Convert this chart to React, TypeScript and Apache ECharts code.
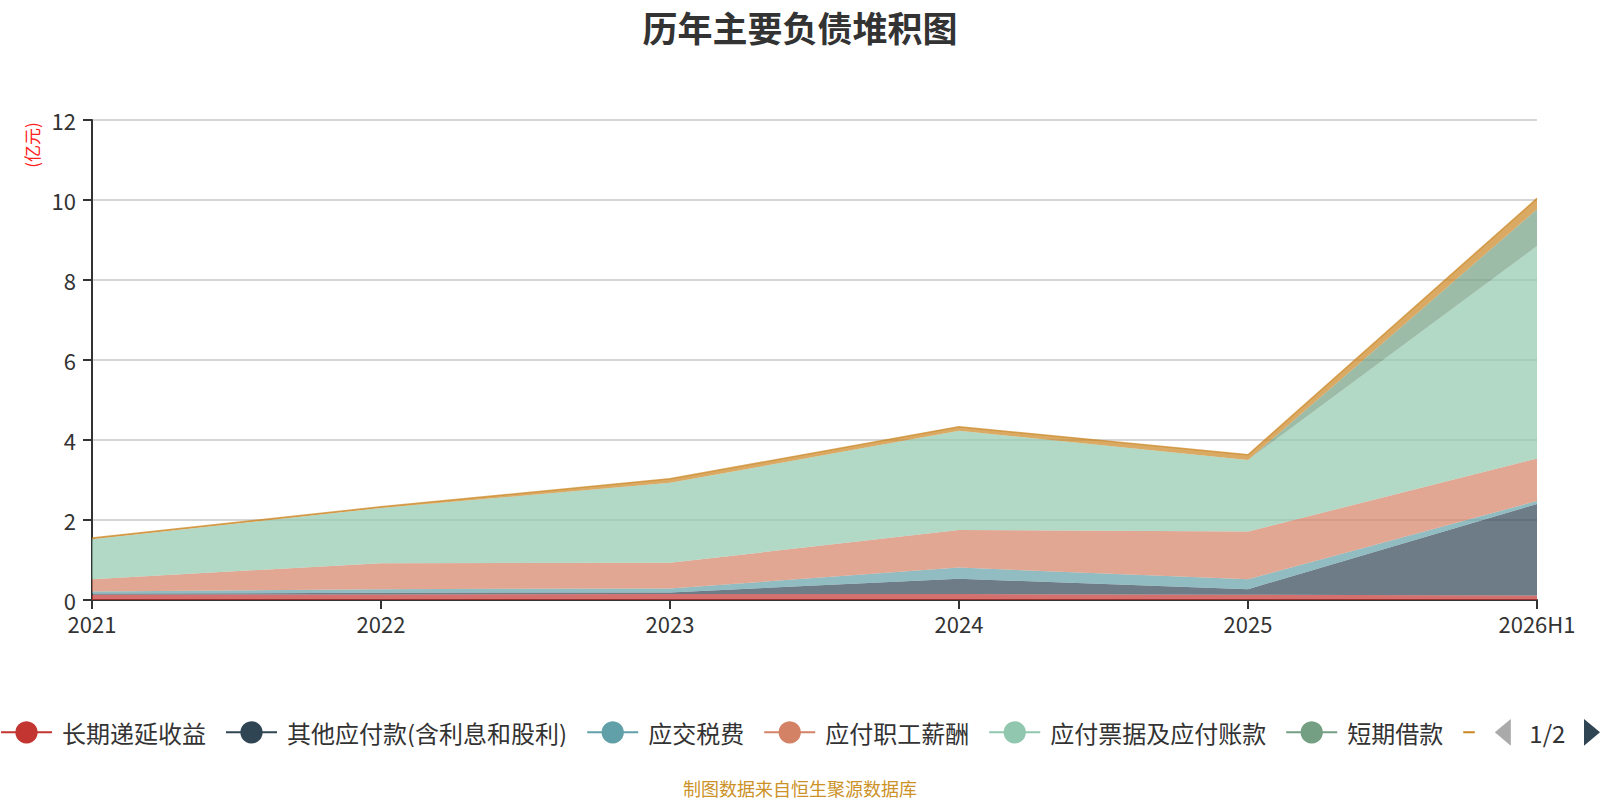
import React, { useEffect, useRef } from "react";
import * as echarts from "echarts";

const categories = ["2021", "2022", "2023", "2024", "2025", "2026H1"];
const seriesNames = [
  "长期递延收益",
  "其他应付款(含利息和股利)",
  "应交税费",
  "应付职工薪酬",
  "应付票据及应付账款",
  "短期借款",
  "合同负债",
  "租赁负债",
];
const deferredIncome = [0.13, 0.14, 0.15, 0.15, 0.13, 0.11];
const otherPayables = [0.03, 0.04, 0.04, 0.38, 0.14, 2.29];
const taxesPayable = [0.05, 0.09, 0.1, 0.28, 0.25, 0.075];
const payroll = [0.31, 0.65, 0.64, 0.94, 1.19, 1.065];
const notesAccounts = [1.0, 1.38, 2.0, 2.48, 1.79, 5.31];
const shortLoans = [0, 0, 0, 0, 0, 0.92];
const contractLiab = [0.03, 0.03, 0.1, 0.1, 0.13, 0.27];
const leaseLiab = [0, 0, 0, 0, 0, 0];
const seriesValues = [
  deferredIncome,
  otherPayables,
  taxesPayable,
  payroll,
  notesAccounts,
  shortLoans,
  contractLiab,
  leaseLiab,
];
const colors = [
  "#c23531",
  "#2f4554",
  "#61a0a8",
  "#d48265",
  "#91c7ae",
  "#749f83",
  "#ca8622",
  "#bda29a",
];
const yTicks = { min: 0, max: 12, interval: 2 };

const FONT = "'Noto Sans CJK SC', 'Noto Sans', sans-serif";

export default function App() {
  const ref = useRef<HTMLDivElement>(null);
  useEffect(() => {
    if (!ref.current) return;
    const chart = echarts.init(ref.current, null, { renderer: "svg" });
    chart.setOption({
      animation: false,
      color: colors,
      textStyle: { fontFamily: FONT },
      title: {
        text: "历年主要负债堆积图",
        left: "center",
        top: 4,
        textStyle: { fontSize: 35, fontWeight: "bold", color: "#333", fontFamily: FONT },
      },
      grid: { left: 92, right: 63, top: 120, bottom: 200, containLabel: false },
      legend: {
        type: "scroll",
        left: 0,
        right: 0,
        top: 719,
        padding: 0,
        itemWidth: 51,
        itemHeight: 28,
        itemGap: 19,
        lineStyle: { width: 2, opacity: 1 },
        textStyle: { fontSize: 24, color: "#333", fontFamily: FONT, padding: [0, 0, 0, 5] },
        pageIconColor: "#2f4554",
        pageIconInactiveColor: "#aaa",
        pageIconSize: [16, 28],
        pageTextStyle: { fontSize: 24, color: "#333", fontFamily: FONT },
        pageButtonItemGap: 8,
        pageButtonGap: 20,
        data: seriesNames,
      },
      xAxis: {
        type: "category",
        boundaryGap: false,
        data: categories,
        axisLine: { lineStyle: { color: "#333", width: 2 } },
        axisTick: { show: true, length: 9, lineStyle: { color: "#333", width: 2 } },
        axisLabel: { fontSize: 22, color: "#333", margin: 12, fontFamily: FONT },
        splitLine: { show: false },
      },
      yAxis: {
        type: "value",
        min: yTicks.min,
        max: yTicks.max,
        interval: yTicks.interval,
        axisLine: { show: true, lineStyle: { color: "#333", width: 2 } },
        axisTick: { show: true, length: 9, lineStyle: { color: "#333", width: 2 } },
        axisLabel: { fontSize: 22, color: "#333", margin: 16, fontFamily: FONT },
        splitLine: { show: true, lineStyle: { color: "#c8c8c8", width: 1.5 } },
      },
      graphic: [
        {
          type: "text",
          x: 31,
          y: 145,
          rotation: Math.PI / 2,
          style: {
            text: "(亿元)",
            fill: "#ff2020",
            fontSize: 17,
            fontFamily: FONT,
            align: "center",
            verticalAlign: "middle",
          },
        },
        {
          type: "text",
          x: 800,
          y: 788,
          style: {
            text: "制图数据来自恒生聚源数据库",
            fill: "#cc9228",
            fontSize: 18,
            fontFamily: FONT,
            align: "center",
            verticalAlign: "middle",
          },
        },
      ],
      series: seriesNames.map((name, i) => ({
        name,
        type: "line",
        stack: "total",
        data: seriesValues[i],
        symbol: "circle",
        showSymbol: false,
        lineStyle: i === 6 ? { width: 1.5, color: colors[i], opacity: 0.7 } : { width: 0 },
        itemStyle: { color: colors[i] },
        areaStyle: { opacity: 0.7, color: colors[i] },
        emphasis: { disabled: true },
      })),
    });
    return () => chart.dispose();
  }, []);
  return (
    <div
      ref={ref}
      style={{ position: "fixed", left: 0, top: 0, width: 1600, height: 800, background: "#fff" }}
    />
  );
}
